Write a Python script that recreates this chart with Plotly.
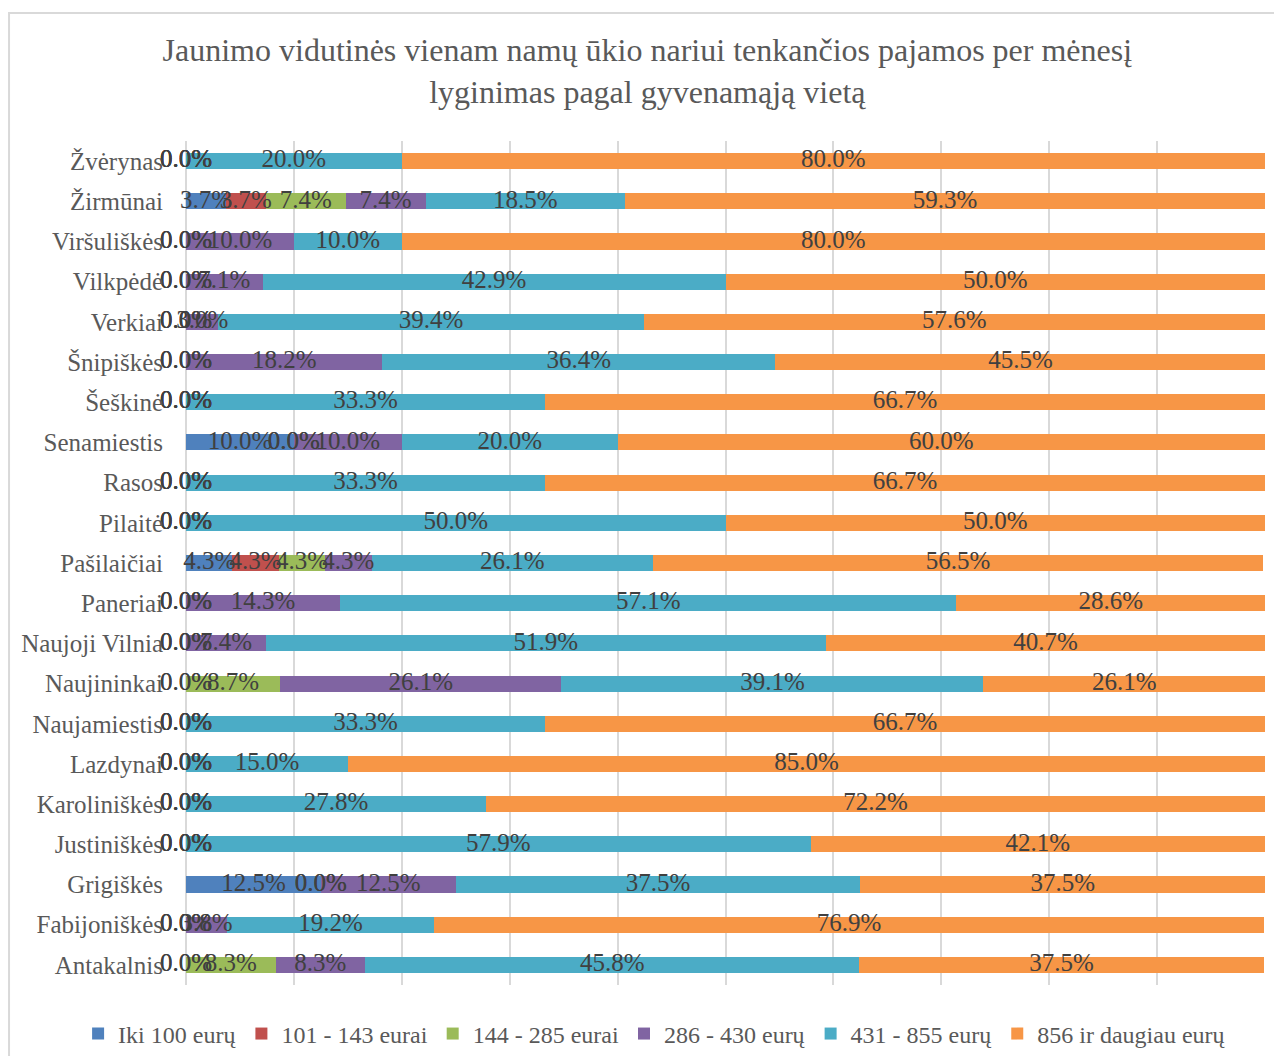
import plotly.graph_objects as go

categories = ["Antakalnis", "Fabijoniškės", "Grigiškės", "Justiniškės", "Karoliniškės",
              "Lazdynai", "Naujamiestis", "Naujininkai", "Naujoji Vilnia", "Paneriai",
              "Pašilaičiai", "Pilaitė", "Rasos", "Senamiestis", "Šeškinė", "Šnipiškės",
              "Verkiai", "Vilkpėdė", "Viršuliškės", "Žirmūnai", "Žvėrynas"]

series_names = ["Iki 100 eurų", "101 - 143 eurai", "144 - 285 eurai",
                "286 - 430 eurų", "431 - 855 eurų", "856 ir daugiau eurų"]

iki_100 = [0.0, 0.0, 12.5, 0.0, 0.0, 0.0, 0.0, 0.0, 0.0, 0.0, 4.3, 0.0, 0.0, 10.0, 0.0, 0.0, 0.0, 0.0, 0.0, 3.7, 0.0]
e101_143 = [0.0, 0.0, 0.0, 0.0, 0.0, 0.0, 0.0, 0.0, 0.0, 0.0, 4.3, 0.0, 0.0, 0.0, 0.0, 0.0, 0.0, 0.0, 0.0, 3.7, 0.0]
e144_285 = [8.3, 0.0, 0.0, 0.0, 0.0, 0.0, 0.0, 8.7, 0.0, 0.0, 4.3, 0.0, 0.0, 0.0, 0.0, 0.0, 0.0, 0.0, 0.0, 7.4, 0.0]
e286_430 = [8.3, 3.8, 12.5, 0.0, 0.0, 0.0, 0.0, 26.1, 7.4, 14.3, 4.3, 0.0, 0.0, 10.0, 0.0, 18.2, 3.0, 7.1, 10.0, 7.4, 0.0]
e431_855 = [45.8, 19.2, 37.5, 57.9, 27.8, 15.0, 33.3, 39.1, 51.9, 57.1, 26.1, 50.0, 33.3, 20.0, 33.3, 36.4, 39.4, 42.9, 10.0, 18.5, 20.0]
e856_plus = [37.5, 76.9, 37.5, 42.1, 72.2, 85.0, 66.7, 26.1, 40.7, 28.6, 56.5, 50.0, 66.7, 60.0, 66.7, 45.5, 57.6, 50.0, 80.0, 59.3, 80.0]

series_values = [iki_100, e101_143, e144_285, e286_430, e431_855, e856_plus]
colors = ["#4f81bd", "#c0504d", "#9bbb59", "#8064a2", "#4bacc6", "#f79646"]

FONT = "Liberation Serif"

fig = go.Figure()
for name, vals, col in zip(series_names, series_values, colors):
    fig.add_trace(go.Bar(
        y=categories, x=vals, name=name, orientation="h",
        marker=dict(color=col, line=dict(width=0)), width=0.4,
        hoverinfo="skip",
    ))

# data labels centred on each segment (computed from cumulative sums)
lab_x, lab_y, lab_t = [], [], []
for i, cat in enumerate(categories):
    cum = 0.0
    for vals in series_values:
        v = vals[i]
        lab_x.append(cum + v / 2)
        lab_y.append(cat)
        lab_t.append(f"{v:.1f}%")
        cum += v

fig.add_trace(go.Scatter(
    x=lab_x, y=lab_y, text=lab_t, mode="text", showlegend=False,
    textfont=dict(family=FONT, size=25, color="#404040"),
    textposition="middle center", hoverinfo="skip", cliponaxis=False,
))

fig.update_layout(
    width=1266, height=1048,
    barmode="stack", bargap=0.6,
    paper_bgcolor="white", plot_bgcolor="white",
    margin=dict(l=178, r=9, t=133, b=71, autoexpand=False),
    font=dict(family=FONT, color="#595959"),
    title=dict(
        text="Jaunimo vidutinės vienam namų ūkio nariui tenkančios pajamos per mėnesį<br>lyginimas pagal gyvenamąją vietą",
        x=0.505, xanchor="center", y=0.9495, yanchor="middle",
        font=dict(family=FONT, size=32, color="#595959"),
    ),
    legend=dict(
        orientation="h", x=-0.1, xanchor="left",
        y=-0.058, yanchor="middle",
        font=dict(family=FONT, size=24, color="#595959"),
        traceorder="normal", itemwidth=30,
    ),
    showlegend=True,
)
fig.update_xaxes(
    range=[0, 100], dtick=10, showticklabels=False,
    showgrid=True, gridcolor="#d9d9d9", gridwidth=1.5,
    zeroline=True, zerolinecolor="#d9d9d9", zerolinewidth=1.5,
    showline=False, fixedrange=True,
)
fig.update_yaxes(
    categoryorder="array", categoryarray=categories,
    range=[-0.5, len(categories) - 0.5], autorange=False,
    showgrid=False, showline=False, zeroline=False,
    tickfont=dict(family=FONT, size=25, color="#595959"),
    ticklabelstandoff=22, fixedrange=True,
)

fig.add_shape(type="rect", xref="paper", yref="paper",
              x0=-0.164, x1=1.2, y0=-0.2, y1=1.1517,
              line=dict(color="#d9d9d9", width=2), layer="below")

fig.write_html("out.html")
